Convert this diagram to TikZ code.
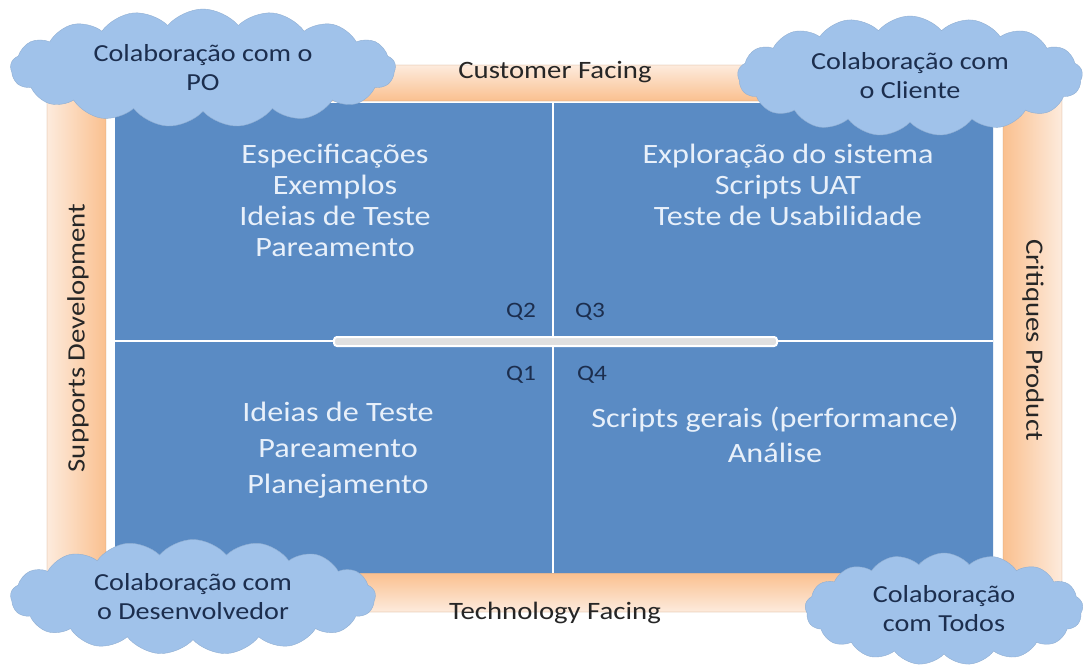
\documentclass[tikz,border=0pt]{standalone}
\usepackage{fontspec}
\setmainfont{Carlito}[FakeStretch=1.15]
\usetikzlibrary{shapes.symbols}
\definecolor{panel}{HTML}{5A8BC4}
\definecolor{cloudc}{HTML}{A0C2EA}
\definecolor{navy}{HTML}{1C2E4E}
\definecolor{orangeD}{HTML}{FAC08F}
\definecolor{orangeL}{HTML}{FDEBDD}
\definecolor{paneltext}{HTML}{E8F0FA}
\tikzset{
  cloudbox/.style={cloud, cloud puffs=17, cloud puff arc=100, cloud ignores aspect, fill=cloudc, draw=cloudc!90!black, line width=0.4pt, text=navy, align=center, font=\fontsize{24.5}{29}\selectfont, inner sep=0pt},
  qtext/.style={text=paneltext, align=center, font=\fontsize{28}{31}\selectfont},
  qlabel/.style={text=navy, font=\fontsize{22}{24}\selectfont},
  barlabel/.style={text=black!85, font=\fontsize{25}{28}\selectfont},
  divider/.style={draw=white, line width=2.5pt}
}
\begin{document}
\begin{tikzpicture}[x=1pt,y=-1pt]
\useasboundingbox (0,0) rectangle (1086,670);
\fill[white] (0,0) rectangle (1086,670);
% orange frame bars
\shade[top color=orangeL, bottom color=orangeD, rounded corners=4pt, draw=orangeD!80!black, line width=0.3pt] (95,65) rectangle (1015,101);
\shade[top color=orangeD, bottom color=orangeL, rounded corners=4pt, draw=orangeD!80!black, line width=0.3pt] (95,573) rectangle (1015,612);
\shade[left color=orangeL, right color=orangeD, rounded corners=4pt, draw=orangeD!80!black, line width=0.3pt] (47,80) rectangle (106,600);
\shade[left color=orangeD, right color=orangeL, rounded corners=4pt, draw=orangeD!80!black, line width=0.3pt] (1003,80) rectangle (1062,600);
% blue panel
\fill[panel, rounded corners=14pt] (115,103) rectangle (993,573);
\coordinate (vt) at (553,103);
\coordinate (vb) at (553,573);
\coordinate (hl) at (115,341);
\coordinate (hr) at (993,341);
\draw[divider] (vt) -- (vb);
\draw[draw=white, line width=1.5pt] (hl) -- (hr);
\draw[fill=black!12, draw=white, line width=2pt, rounded corners=3pt] (334,337) rectangle (777,346);
% bar labels
\node[barlabel] (cf) at (555,72) {Customer Facing};
\node[barlabel] (tf) at (555,613) {Technology Facing};
\node[barlabel, rotate=90] (sd) at (78,338) {Supports Development};
\node[barlabel, rotate=-90] (cp) at (1033,340) {Critiques Product};
% quadrant texts
\node[qtext, anchor=north] (q2t) at (335,141) {Especificações\\Exemplos\\Ideias de Teste\\Pareamento};
\node[qtext, anchor=north] (q3t) at (788,141) {Exploração do sistema\\Scripts UAT\\Teste de Usabilidade};
\node[qtext, anchor=north, font=\fontsize{28}{36}\selectfont] (q1t) at (338,399) {Ideias de Teste\\Pareamento\\Planejamento};
\node[qtext, anchor=north, font=\fontsize{28}{35}\selectfont] (q4t) at (775,403) {Scripts gerais (performance)\\Análise};
% Q labels
\node[qlabel] (q2) at (521,312) {Q2};
\node[qlabel] (q3) at (590,312) {Q3};
\node[qlabel] (q1) at (521,375) {Q1};
\node[qlabel] (q4) at (592,375) {Q4};
% clouds
\node[cloudbox, minimum width=385pt, minimum height=118pt] (c1) at (203,68) {Colaboração com o\\PO};
\node[cloudbox, minimum width=345pt, minimum height=120pt] (c2) at (910,76) {Colaboração com\\o Cliente};
\node[cloudbox, minimum width=365pt, minimum height=115pt] (c3) at (193,597) {Colaboração com\\o Desenvolvedor};
\node[cloudbox, minimum width=278pt, minimum height=112pt] (c4) at (944,609) {Colaboração\\com Todos};
\end{tikzpicture}
\end{document}
